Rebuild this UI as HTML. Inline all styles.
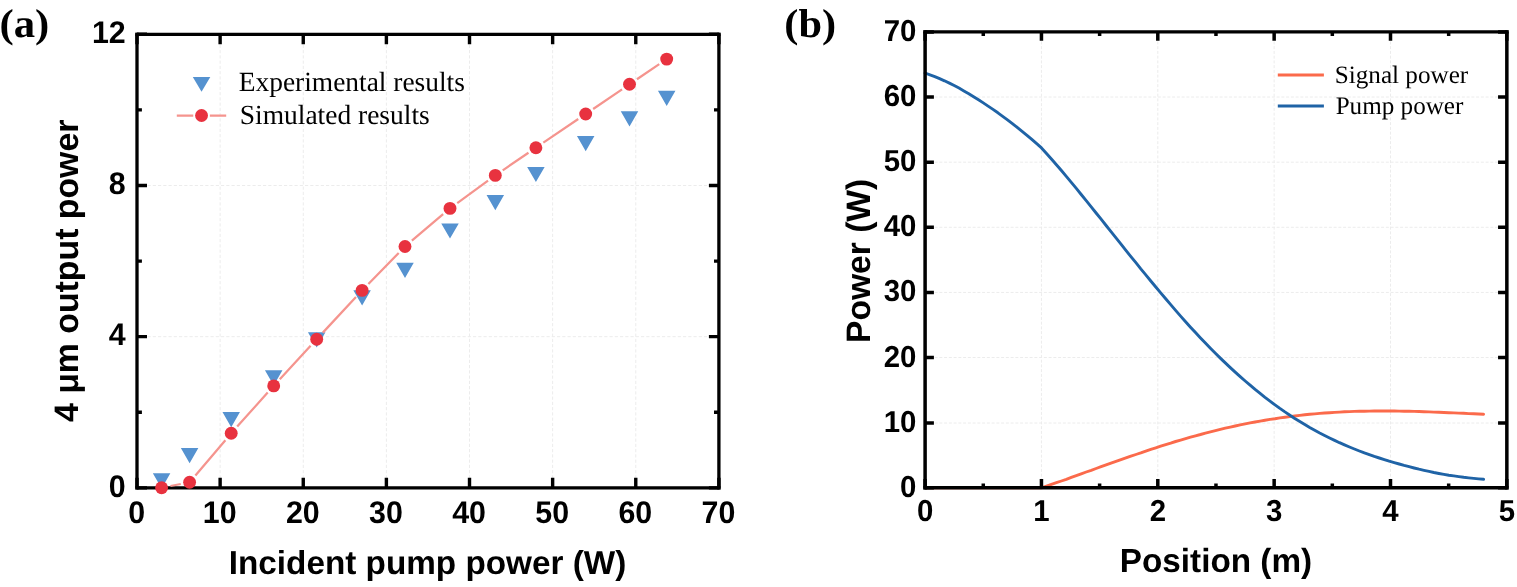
<!DOCTYPE html>
<html lang="en">
<head>
<meta charset="utf-8">
<title>Figure: output power and power distribution</title>
<style>
html,body{margin:0;padding:0;background:#fff;}
body{width:1517px;height:587px;overflow:hidden;}
svg{display:block;}
text{fill:#000;text-rendering:geometricPrecision;}
.g{stroke:#ececec;stroke-width:1;fill:none;}
.t{font-family:"Liberation Sans",sans-serif;font-weight:bold;}
.ax{font-family:"Liberation Sans",sans-serif;font-weight:bold;}
.pl{font-family:"Liberation Serif",serif;font-weight:bold;}
.lg{font-family:"Liberation Serif",serif;}
</style>
</head>
<body>
<svg width="1517" height="587" viewBox="0 0 1517 587">
<rect width="1517" height="587" fill="#fff"/>
<g id="panel-a">
<path class="g" stroke-dasharray="3.2 2.05" d="M220.13 34.3V487.85M303.26 34.3V487.85M386.39 34.3V487.85M469.51 34.3V487.85M552.64 34.3V487.85M635.77 34.3V487.85M137 336.67H718.9M137 185.48H718.9"/>
<path d="M137 487.85v-10M137 34.3v10M220.13 487.85v-10M220.13 34.3v10M303.26 487.85v-10M303.26 34.3v10M386.39 487.85v-10M386.39 34.3v10M469.51 487.85v-10M469.51 34.3v10M552.64 487.85v-10M552.64 34.3v10M635.77 487.85v-10M635.77 34.3v10M718.9 487.85v-10M718.9 34.3v10M137 487.85h10M718.9 487.85h-10M137 336.67h10M718.9 336.67h-10M137 185.48h10M718.9 185.48h-10M137 34.3h10M718.9 34.3h-10M137 412.26h4.9M718.9 412.26h-4.9M137 261.08h4.9M718.9 261.08h-4.9M137 109.89h4.9M718.9 109.89h-4.9" fill="none" stroke="#000" stroke-width="3.4"/>
<path d="M135.35 487.85H720.55M135.35 34.3H720.55" fill="none" stroke="#000" stroke-width="3.15"/>
<path d="M137 489.43V32.72M718.9 489.43V32.72" fill="none" stroke="#000" stroke-width="3.3"/>
<path fill="#5592d0" d="M152.85 473.25h17.5L161.6 488.45zM180.85 448h17.5L189.6 463.2zM222.45 412h17.5L231.2 427.2zM264.95 370.2h17.5L273.7 385.4zM307.95 332.2h17.5L316.7 347.4zM353.35 290.2h17.5L362.1 305.4zM396.25 262.7h17.5L405 277.9zM441.25 223.4h17.5L450 238.6zM486.55 195h17.5L495.3 210.2zM527.15 166.9h17.5L535.9 182.1zM576.95 136.1h17.5L585.7 151.3zM620.75 111.3h17.5L629.5 126.5zM657.95 90.8h17.5L666.7 106z"/>
<path d="M170.44 486L180.76 484M195.42 475.44L225.38 440.16M237.21 426.6L267.69 392.6M279.8 379.28L310.6 345.82M322.83 332.61L355.97 296.99M368.39 283.96L398.71 252.94M411.87 240.68L443.13 214.22M457.27 203.1L488.03 180.7M502.73 170.33L528.47 152.77M543.35 142.66L578.25 119.04M593.15 108.95L622.05 89.35M636.95 79.25L659.25 64.15" fill="none" stroke="#f5948e" stroke-width="2.25"/>
<g fill="#e8323f"><circle cx="161.6" cy="487.7" r="6.45"/><circle cx="189.6" cy="482.3" r="6.45"/><circle cx="231.2" cy="433.3" r="6.45"/><circle cx="273.7" cy="385.9" r="6.45"/><circle cx="316.7" cy="339.2" r="6.45"/><circle cx="362.1" cy="290.4" r="6.45"/><circle cx="405" cy="246.5" r="6.45"/><circle cx="450" cy="208.4" r="6.45"/><circle cx="495.3" cy="175.4" r="6.45"/><circle cx="535.9" cy="147.7" r="6.45"/><circle cx="585.7" cy="114" r="6.45"/><circle cx="629.5" cy="84.3" r="6.45"/><circle cx="666.7" cy="59.1" r="6.45"/></g>
<text class="t" font-size="30.4" text-anchor="middle" transform="translate(136.6 523.4) scale(1 1.03)">0</text>
<text class="t" font-size="30.4" text-anchor="middle" transform="translate(219.73 523.4) scale(1 1.03)">10</text>
<text class="t" font-size="30.4" text-anchor="middle" transform="translate(302.86 523.4) scale(1 1.03)">20</text>
<text class="t" font-size="30.4" text-anchor="middle" transform="translate(385.99 523.4) scale(1 1.03)">30</text>
<text class="t" font-size="30.4" text-anchor="middle" transform="translate(469.11 523.4) scale(1 1.03)">40</text>
<text class="t" font-size="30.4" text-anchor="middle" transform="translate(552.24 523.4) scale(1 1.03)">50</text>
<text class="t" font-size="30.4" text-anchor="middle" transform="translate(635.37 523.4) scale(1 1.03)">60</text>
<text class="t" font-size="30.4" text-anchor="middle" transform="translate(718.5 523.4) scale(1 1.03)">70</text>
<text class="t" font-size="30.4" text-anchor="end" transform="translate(125.7 496.65) scale(1 1.03)">0</text>
<text class="t" font-size="30.4" text-anchor="end" transform="translate(125.7 345.47) scale(1 1.03)">4</text>
<text class="t" font-size="30.4" text-anchor="end" transform="translate(125.7 194.28) scale(1 1.03)">8</text>
<text class="t" font-size="30.4" text-anchor="end" transform="translate(125.7 43.1) scale(1 1.03)">12</text>
<text class="ax" font-size="33.29" transform="translate(228.78 574.14) scale(1 0.998)">Incident pump power (W)</text>
<text class="ax" font-size="33.82" transform="translate(78.1 422.06) rotate(-90) scale(1 1.005)">4 μm output power</text>
<text class="pl" font-size="42.78" transform="translate(-0.55 36.66) scale(1 0.939)">(a)</text>
<path fill="#5592d0" d="M192.8 76.9h17.5L201.55 91.7z"/>
<path d="M176.8 115.55H193.25M209.85 115.55H226.2" fill="none" stroke="#f5948e" stroke-width="2.25"/>
<circle cx="201.55" cy="115.55" r="6.45" fill="#e8323f"/>
<text class="lg" font-size="27.42" transform="translate(238.78 91.35) scale(1 1.013)">Experimental results</text>
<text class="lg" font-size="27.48" transform="translate(239.77 124.1) scale(1 1.008)">Simulated results</text>
</g>
<g id="panel-b">
<path class="g" stroke-dasharray="3 1.75" d="M1041.45 31.9V487.8M1157.8 31.9V487.8M1274.15 31.9V487.8M1390.5 31.9V487.8M925.1 423.02H1506.85M925.1 357.54H1506.85M925.1 292.41H1506.85M925.1 227.29H1506.85M925.1 162.16H1506.85M925.1 97.03H1506.85"/>
<polyline points="925.1,487.8 1041.5,487.8 1046.5,486.1 1051.4,484.4 1056.4,482.7 1061.4,481 1066.3,479.3 1071.3,477.4 1076.3,475.6 1081.2,473.8 1086.2,472 1091.2,470.3 1096.1,468.5 1101.1,466.7 1106.1,464.9 1111,463.1 1116,461.4 1121,459.6 1125.9,457.9 1130.9,456.2 1135.9,454.5 1140.8,452.9 1145.8,451.1 1150.8,449.4 1155.8,447.8 1160.7,446.2 1165.7,444.6 1170.7,443.1 1175.6,441.5 1180.6,440.1 1185.6,438.6 1190.5,437.2 1195.5,435.8 1200.5,434.5 1205.4,433.1 1210.4,431.9 1215.4,430.6 1220.3,429.4 1225.3,428.2 1230.3,427.1 1235.2,426 1240.2,424.9 1245.2,423.9 1250.1,422.9 1255.1,422 1260.1,421.1 1265,420.3 1270,419.4 1275,418.7 1279.9,417.9 1284.9,417.2 1289.9,416.6 1294.8,416 1299.8,415.4 1304.8,414.8 1309.7,414.3 1314.7,413.9 1319.7,413.4 1324.6,413 1329.6,412.7 1334.6,412.4 1339.5,412.1 1344.5,411.8 1349.5,411.6 1354.4,411.4 1359.4,411.3 1364.4,411.2 1369.3,411.1 1374.3,411 1379.3,411 1384.3,411 1389.2,411 1394.2,411 1399.2,411.1 1404.1,411.2 1409.1,411.3 1414.1,411.4 1419,411.5 1424,411.7 1429,411.9 1433.9,412.1 1438.9,412.3 1443.9,412.5 1448.8,412.7 1453.8,412.9 1458.8,413.1 1463.7,413.3 1468.7,413.6 1473.7,413.8 1478.6,414 1483.6,414.2" fill="none" stroke="#fb6a4b" stroke-width="2.9" stroke-linejoin="round" stroke-linecap="round"/>
<polyline points="925.1,73 930,74.8 934.8,76.6 939.6,78.7 944.5,80.8 949.4,83.1 954.2,85.5 959,88.1 963.9,90.9 968.8,93.7 973.6,96.7 978.5,99.8 983.3,102.9 988.1,106.1 993,109.4 997.9,112.8 1002.7,116.3 1007.5,119.9 1012.4,123.6 1017.2,127.4 1022.1,131.3 1027,135.3 1031.8,139.4 1036.7,143.6 1041.5,147.9 1046.5,153.4 1051.4,159 1056.4,164.7 1061.4,170.5 1066.3,176.4 1071.3,182.4 1076.3,188.4 1081.2,194.5 1086.2,200.6 1091.2,206.8 1096.1,213 1101.1,219.2 1106.1,225.5 1111,231.7 1116,237.9 1121,244.2 1125.9,250.4 1130.9,256.6 1135.9,262.7 1140.8,268.9 1145.8,274.9 1150.8,281 1155.8,287 1160.7,292.9 1165.7,298.8 1170.7,304.6 1175.6,310.4 1180.6,316.1 1185.6,321.7 1190.5,327.2 1195.5,332.6 1200.5,337.9 1205.4,343.1 1210.4,348.3 1215.4,353.3 1220.3,358.1 1225.3,362.9 1230.3,367.6 1235.2,372.1 1240.2,376.6 1245.2,381 1250.1,385.2 1255.1,389.4 1260.1,393.4 1265,397.3 1270,401.1 1275,404.8 1279.9,408.4 1284.9,411.9 1289.9,415.2 1294.8,418.5 1299.8,421.6 1304.8,424.6 1309.7,427.5 1314.7,430.3 1319.7,433 1324.6,435.5 1329.6,438 1334.6,440.4 1339.5,442.7 1344.5,444.9 1349.5,447 1354.4,449 1359.4,451 1364.4,452.9 1369.3,454.6 1374.3,456.4 1379.3,458 1384.3,459.6 1389.2,461.2 1394.2,462.6 1399.2,464 1404.1,465.4 1409.1,466.7 1414.1,468 1419,469.2 1424,470.3 1429,471.4 1433.9,472.5 1438.9,473.5 1443.9,474.4 1448.8,475.2 1453.8,475.9 1458.8,476.6 1463.7,477.3 1468.7,477.9 1473.7,478.4 1478.6,478.9 1483.6,479.3" fill="none" stroke="#1f63a6" stroke-width="2.9" stroke-linejoin="round" stroke-linecap="round"/>
<path d="M925.1 487.8v-8.8M925.1 31.9v8.8M1041.45 487.8v-8.8M1041.45 31.9v8.8M1157.8 487.8v-8.8M1157.8 31.9v8.8M1274.15 487.8v-8.8M1274.15 31.9v8.8M1390.5 487.8v-8.8M1390.5 31.9v8.8M1506.85 487.8v-8.8M1506.85 31.9v8.8M983.27 487.8v-4.2M983.27 31.9v4.2M1099.62 487.8v-4.2M1099.62 31.9v4.2M1215.97 487.8v-4.2M1215.97 31.9v4.2M1332.32 487.8v-4.2M1332.32 31.9v4.2M1448.67 487.8v-4.2M1448.67 31.9v4.2M925.1 487.8h8.8M1506.85 487.8h-8.8M925.1 423.02h8.8M1506.85 423.02h-8.8M925.1 357.54h8.8M1506.85 357.54h-8.8M925.1 292.41h8.8M1506.85 292.41h-8.8M925.1 227.29h8.8M1506.85 227.29h-8.8M925.1 162.16h8.8M1506.85 162.16h-8.8M925.1 97.03h8.8M1506.85 97.03h-8.8M925.1 31.9h8.8M1506.85 31.9h-8.8" fill="none" stroke="#000" stroke-width="3.5"/>
<path d="M923.35 487.8H1508.6M923.35 31.9H1508.6" fill="none" stroke="#000" stroke-width="3.4"/>
<path d="M925.1 489.5V30.2M1506.85 489.5V30.2" fill="none" stroke="#000" stroke-width="3.5"/>
<text class="t" font-size="29.4" text-anchor="middle" transform="translate(925.1 521) scale(1 1.03)">0</text>
<text class="t" font-size="29.4" text-anchor="middle" transform="translate(1041.45 521) scale(1 1.03)">1</text>
<text class="t" font-size="29.4" text-anchor="middle" transform="translate(1157.8 521) scale(1 1.03)">2</text>
<text class="t" font-size="29.4" text-anchor="middle" transform="translate(1274.15 521) scale(1 1.03)">3</text>
<text class="t" font-size="29.4" text-anchor="middle" transform="translate(1390.5 521) scale(1 1.03)">4</text>
<text class="t" font-size="29.4" text-anchor="middle" transform="translate(1506.85 521) scale(1 1.03)">5</text>
<text class="t" font-size="29.4" text-anchor="end" transform="translate(916.4 496.8) scale(1 1.03)">0</text>
<text class="t" font-size="29.4" text-anchor="end" transform="translate(916.4 432.02) scale(1 1.03)">10</text>
<text class="t" font-size="29.4" text-anchor="end" transform="translate(916.4 366.54) scale(1 1.03)">20</text>
<text class="t" font-size="29.4" text-anchor="end" transform="translate(916.4 301.41) scale(1 1.03)">30</text>
<text class="t" font-size="29.4" text-anchor="end" transform="translate(916.4 236.29) scale(1 1.03)">40</text>
<text class="t" font-size="29.4" text-anchor="end" transform="translate(916.4 171.16) scale(1 1.03)">50</text>
<text class="t" font-size="29.4" text-anchor="end" transform="translate(916.4 106.03) scale(1 1.03)">60</text>
<text class="t" font-size="29.4" text-anchor="end" transform="translate(916.4 40.9) scale(1 1.03)">70</text>
<text class="ax" font-size="33.3" transform="translate(1119.78 572.1) scale(1 1.002)">Position (m)</text>
<text class="ax" font-size="33.6" transform="translate(869.98 342.94) rotate(-90) scale(1 1.011)">Power (W)</text>
<text class="pl" font-size="42.44" transform="translate(784.36 36.66) scale(1 0.947)">(b)</text>
<path d="M1277.8 74.9H1323.9" stroke="#fb6a4b" stroke-width="3.0" fill="none"/>
<path d="M1277.8 106H1323.9" stroke="#1f63a6" stroke-width="3.0" fill="none"/>
<text class="lg" font-size="25.18" transform="translate(1334.72 83.2) scale(1 0.997)">Signal power</text>
<text class="lg" font-size="25.14" transform="translate(1335.65 114.1) scale(1 1.005)">Pump power</text>
</g>
</svg>
</body>
</html>
